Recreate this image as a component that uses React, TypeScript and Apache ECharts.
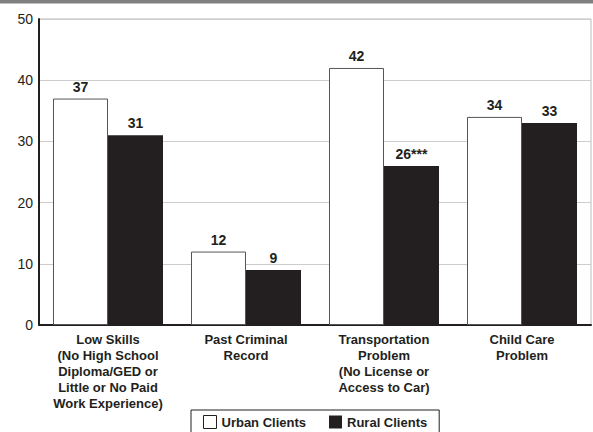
import React, { useEffect, useRef } from "react";
import * as echarts from "echarts";

const categories = [
  "Low Skills\n(No High School\nDiploma/GED or\nLittle or No Paid\nWork Experience)",
  "Past Criminal\nRecord",
  "Transportation\nProblem\n(No License or\nAccess to Car)",
  "Child Care\nProblem",
];
const urbanValues = [37, 12, 42, 34];
const ruralValues = [31, 9, 26, 33];
const ruralLabels = ["31", "9", "26***", "33"];
const seriesNames = ["Urban Clients", "Rural Clients"];
const yTicks = { min: 0, max: 50, interval: 10 };

const FONT = "'Liberation Sans', Arial, Helvetica, sans-serif";

export default function App() {
  const ref = useRef<HTMLDivElement>(null);
  useEffect(() => {
    if (!ref.current) return;
    const chart = echarts.init(ref.current, null, { renderer: "svg" });
    const labelStyle = {
      show: true,
      position: "top",
      distance: 5,
      fontFamily: FONT,
      fontWeight: "bold",
      fontSize: 14,
      color: "#231f20",
    };
    chart.setOption({
      animation: false,
      backgroundColor: "#fff",
      textStyle: { fontFamily: FONT },
      graphic: [
        {
          type: "rect",
          left: 0,
          top: 0,
          shape: { width: 593, height: 3.5 },
          style: { fill: "#808080" },
          silent: true,
        },
      ],
      grid: {
        left: 39,
        right: 2,
        top: 19,
        bottom: 107,
        containLabel: false,
        show: true,
        borderColor: "#bbb",
        borderWidth: 1,
      },
      legend: {
        left: 191,
        top: 410,
        orient: "horizontal",
        itemWidth: 13,
        itemHeight: 13,
        itemGap: 23,
        padding: [5, 12, 12, 12],
        borderColor: "#231f20",
        borderWidth: 1,
        textStyle: {
          fontFamily: FONT,
          fontWeight: "bold",
          fontSize: 13,
          color: "#231f20",
        },
        data: [
          {
            name: seriesNames[0],
            icon: "rect",
            itemStyle: { color: "#fff", borderColor: "#231f20", borderWidth: 1 },
          },
          {
            name: seriesNames[1],
            icon: "rect",
            itemStyle: { color: "#231f20", borderWidth: 0 },
          },
        ],
      },
      xAxis: {
        type: "category",
        data: categories,
        axisLine: { show: true, lineStyle: { color: "#231f20", width: 2 } },
        axisTick: { show: false },
        axisLabel: {
          interval: 0,
          margin: 6,
          fontFamily: FONT,
          fontWeight: "bold",
          fontSize: 13,
          lineHeight: 16,
          color: "#231f20",
          align: "center",
        },
        splitLine: { show: false },
      },
      yAxis: {
        type: "value",
        min: yTicks.min,
        max: yTicks.max,
        interval: yTicks.interval,
        axisLine: { show: true, lineStyle: { color: "#231f20", width: 2 } },
        axisTick: { show: false },
        axisLabel: {
          margin: 6,
          fontFamily: FONT,
          fontSize: 14,
          color: "#231f20",
        },
        splitLine: { show: true, lineStyle: { color: "#ccc", width: 1 } },
      },
      series: [
        {
          name: seriesNames[0],
          type: "bar",
          data: urbanValues,
          barWidth: 55,
          barGap: "0%",
          itemStyle: { color: "#fff", borderColor: "#555", borderWidth: 1 },
          label: labelStyle,
        },
        {
          name: seriesNames[1],
          type: "bar",
          data: ruralValues.map((v, i) => ({
            value: v,
            label: { formatter: ruralLabels[i] },
          })),
          barWidth: 55,
          barGap: "0%",
          itemStyle: { color: "#231f20" },
          label: labelStyle,
        },
      ],
    });
    return () => chart.dispose();
  }, []);
  return (
    <div
      ref={ref}
      style={{ position: "fixed", left: 0, top: 0, width: 593, height: 432 }}
    />
  );
}
